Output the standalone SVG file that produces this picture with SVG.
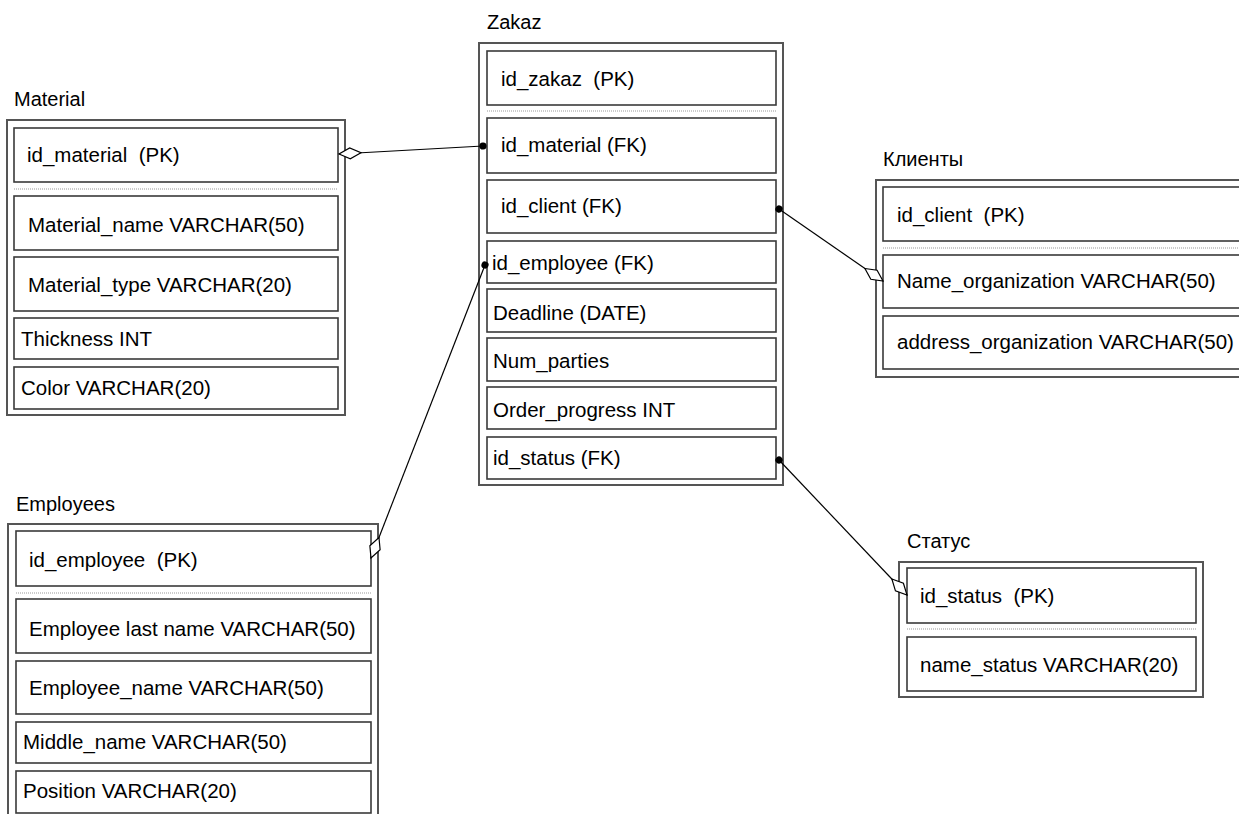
<svg xmlns="http://www.w3.org/2000/svg" width="1239" height="814" viewBox="0 0 1239 814">
  <style>
    text { font-family: "Liberation Sans", Arial, sans-serif; font-size: 20.5px; fill: #000; white-space: pre; }
    .title { font-size: 20px; }
    .outer { fill: #fff; stroke: #555; stroke-width: 2; }
    .row { fill: #fff; stroke: #3a3a3a; stroke-width: 1.6; }
    .sep { stroke: #999; stroke-width: 1.2; stroke-dasharray: 1 1; }
    .link { fill: none; stroke: #000; stroke-width: 1.2; marker-start: url(#dot); marker-end: url(#diamond); }
  </style>
  <defs>
    <marker id="dot" markerUnits="userSpaceOnUse" markerWidth="10" markerHeight="10" refX="5" refY="5" orient="auto">
      <circle cx="5" cy="5" r="3.6" fill="#000"/>
    </marker>
    <marker id="diamond" markerUnits="userSpaceOnUse" markerWidth="26" markerHeight="14" refX="23" refY="7" orient="auto">
      <path d="M1,7 L12,1.5 L23,7 L12,12.5 Z" fill="#fff" stroke="#000" stroke-width="1.2"/>
    </marker>
  </defs>

  <rect width="1239" height="814" fill="#fff"/>

  <!-- Material -->
  <g id="material">
    <text class="title" x="14" y="106">Material</text>
    <rect class="outer" x="7" y="120" width="338" height="295"/>
    <rect class="row" x="14" y="128" width="324" height="54"/>
    <line class="sep" x1="14" y1="189" x2="338" y2="189"/>
    <rect class="row" x="14" y="196" width="324" height="54"/>
    <rect class="row" x="14" y="257" width="324" height="54"/>
    <rect class="row" x="14" y="318" width="324" height="41"/>
    <rect class="row" x="14" y="367" width="324" height="42"/>
    <text x="27" y="162">id_material  (PK)</text>
    <text x="28" y="232">Material_name VARCHAR(50)</text>
    <text x="28" y="292">Material_type VARCHAR(20)</text>
    <text x="21" y="346">Thickness INT</text>
    <text x="21" y="395">Color VARCHAR(20)</text>
  </g>

  <!-- Zakaz -->
  <g id="zakaz">
    <text class="title" x="487" y="29">Zakaz</text>
    <rect class="outer" x="479" y="43" width="304" height="442"/>
    <rect class="row" x="487" y="51" width="289" height="54"/>
    <line class="sep" x1="487" y1="111" x2="776" y2="111"/>
    <rect class="row" x="487" y="118" width="289" height="55"/>
    <rect class="row" x="487" y="180" width="289" height="53"/>
    <rect class="row" x="487" y="241" width="289" height="42"/>
    <rect class="row" x="487" y="289" width="289" height="43"/>
    <rect class="row" x="487" y="338" width="289" height="43"/>
    <rect class="row" x="487" y="387" width="289" height="42"/>
    <rect class="row" x="487" y="437" width="289" height="42"/>
    <text x="501" y="86">id_zakaz  (PK)</text>
    <text x="501" y="152">id_material (FK)</text>
    <text x="501" y="213">id_client (FK)</text>
    <text x="492" y="270">id_employee (FK)</text>
    <text x="493" y="320">Deadline (DATE)</text>
    <text x="493" y="368">Num_parties</text>
    <text x="493" y="417">Order_progress INT</text>
    <text x="493" y="465">id_status (FK)</text>
  </g>

  <!-- Клиенты -->
  <g id="clients">
    <text class="title" x="883" y="166">Клиенты</text>
    <rect class="outer" x="876" y="180" width="380" height="197"/>
    <rect class="row" x="883" y="187" width="366" height="54"/>
    <line class="sep" x1="883" y1="248" x2="1249" y2="248"/>
    <rect class="row" x="883" y="255" width="366" height="53"/>
    <rect class="row" x="883" y="316" width="366" height="53"/>
    <text x="897" y="222">id_client  (PK)</text>
    <text x="897" y="288">Name_organization VARCHAR(50)</text>
    <text x="897" y="349">address_organization VARCHAR(50)</text>
  </g>

  <!-- Employees -->
  <g id="employees">
    <text class="title" x="16" y="511">Employees</text>
    <rect class="outer" x="8" y="524" width="370" height="310"/>
    <rect class="row" x="16" y="531" width="355" height="55"/>
    <line class="sep" x1="16" y1="593" x2="371" y2="593"/>
    <rect class="row" x="16" y="599" width="355" height="54"/>
    <rect class="row" x="16" y="661" width="355" height="53"/>
    <rect class="row" x="16" y="722" width="355" height="41"/>
    <rect class="row" x="16" y="771" width="355" height="42"/>
    <text x="29" y="567">id_employee  (PK)</text>
    <text x="29" y="636">Employee last name VARCHAR(50)</text>
    <text x="29" y="695">Employee_name VARCHAR(50)</text>
    <text x="23" y="749">Middle_name VARCHAR(50)</text>
    <text x="23" y="798">Position VARCHAR(20)</text>
  </g>

  <!-- Статус -->
  <g id="status">
    <text class="title" x="907" y="548">Статус</text>
    <rect class="outer" x="899" y="562" width="304" height="135"/>
    <rect class="row" x="907" y="568" width="289" height="55"/>
    <line class="sep" x1="907" y1="629" x2="1196" y2="629"/>
    <rect class="row" x="907" y="637" width="289" height="54"/>
    <text x="920" y="603">id_status  (PK)</text>
    <text x="920" y="672">name_status VARCHAR(20)</text>
  </g>

  <!-- relationships: dot on the foreign key, diamond on the referenced key -->
  <g id="connectors">
    <line class="link" x1="483" y1="146" x2="339" y2="154"/>
    <line class="link" x1="779" y1="209" x2="883" y2="281"/>
    <line class="link" x1="485" y1="265" x2="371" y2="558"/>
    <line class="link" x1="779" y1="460" x2="907" y2="595"/>
  </g>
</svg>
